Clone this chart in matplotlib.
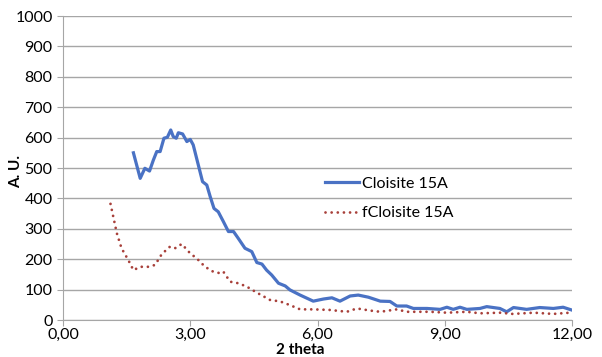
import numpy as np
import matplotlib
matplotlib.use('Agg')
import matplotlib.pyplot as plt
from matplotlib.ticker import FuncFormatter

plt.rcParams['font.family'] = ['Lato', 'DejaVu Sans']

# Cloisite 15A
x_cl = [1.66, 1.82, 1.93, 2.04, 2.13, 2.21, 2.29, 2.38, 2.46, 2.54, 2.60, 2.67, 2.72,
        2.82, 2.92, 3.00, 3.07, 3.15, 3.23, 3.29, 3.39, 3.47, 3.56, 3.66, 3.78, 3.90,
        4.02, 4.13, 4.29, 4.45, 4.57, 4.69, 4.80, 4.92, 5.08, 5.24, 5.35, 5.59, 5.90,
        6.14, 6.34, 6.53, 6.77, 6.96, 7.20, 7.48, 7.71, 7.87, 8.10, 8.26, 8.58, 8.89,
        9.05, 9.20, 9.36, 9.52, 9.83, 9.99, 10.30, 10.46, 10.62, 10.93, 11.24, 11.56,
        11.79, 11.99]
y_cl = [550, 466, 499, 490, 526, 554, 554, 598, 601, 625, 603, 598, 616,
        612, 587, 594, 576, 532, 488, 455, 444, 406, 367, 356, 324, 291,
        291, 269, 236, 225, 189, 184, 164, 148, 121, 112, 99, 82, 62,
        69, 73, 62, 79, 82, 75, 62, 61, 46, 46, 38, 38, 35,
        42, 35, 42, 35, 38, 44, 38, 27, 41, 35, 41, 38,
        42, 33]

# fCloisite 15A
x_fcl = [1.12, 1.27, 1.38, 1.54, 1.66, 1.82, 2.01, 2.17, 2.33, 2.52, 2.64, 2.80,
         3.00, 3.15, 3.35, 3.54, 3.70, 3.78, 3.94, 4.13, 4.33, 4.57, 4.88, 5.12,
         5.35, 5.59, 5.90, 6.30, 6.69, 6.93, 7.24, 7.48, 7.87, 8.10, 8.65, 9.05,
         9.52, 9.83, 10.30, 10.60, 11.10, 11.56, 11.95]
y_fcl = [382, 285, 236, 197, 164, 175, 175, 181, 217, 241, 236, 250,
         219, 203, 175, 159, 154, 159, 126, 121, 110, 90, 66, 61,
         49, 35, 35, 33, 27, 38, 31, 27, 35, 27, 27, 24,
         27, 22, 24, 20, 24, 20, 24]

xticks = [0, 3, 6, 9, 12]
yticks = list(range(0, 1001, 100))

fig = plt.figure(figsize=(6.02, 3.57), dpi=100)
ax = fig.add_axes([63/602, 37/357, 509/602, 304/357])

ax.plot(x_cl, y_cl, color='#4a72c4', lw=2.3, label='Cloisite 15A')
ax.plot(x_fcl, y_fcl, color='#a8403a', lw=2.0, linestyle=(0, (0.01, 2.2)),
        dash_capstyle='round', label='fCloisite 15A')

ax.set_xlim(0, 12)
ax.set_ylim(0, 1000)
ax.set_xticks(xticks)
ax.set_yticks(yticks)
ax.xaxis.set_major_formatter(FuncFormatter(lambda v, p: f'{v:.2f}'.replace('.', ',')))
ax.yaxis.grid(True, color='#a6a6a6', lw=1)
ax.set_axisbelow(True)
for s in ['top', 'right']:
    ax.spines[s].set_visible(False)
for s in ['left', 'bottom']:
    ax.spines[s].set_color('#a6a6a6')
ax.tick_params(axis='both', colors='#a6a6a6', labelcolor='black', labelsize=11.5, length=4)
ax.tick_params(axis='x', pad=2)

ax.set_xlabel('2 theta', fontweight='bold', fontsize=11)
ax.set_ylabel('A. U.', fontweight='bold', fontsize=11)
ax.xaxis.set_label_coords(0.466, -0.077)
ax.yaxis.set_label_coords(-0.078, 0.49)

ax.legend(loc='center left', bbox_to_anchor=(0.499, 0.4), frameon=False, borderpad=0,
          fontsize=11.5, labelspacing=0.95, handlelength=2.1, handletextpad=0.2)

fig.savefig('out.png', dpi=100)
